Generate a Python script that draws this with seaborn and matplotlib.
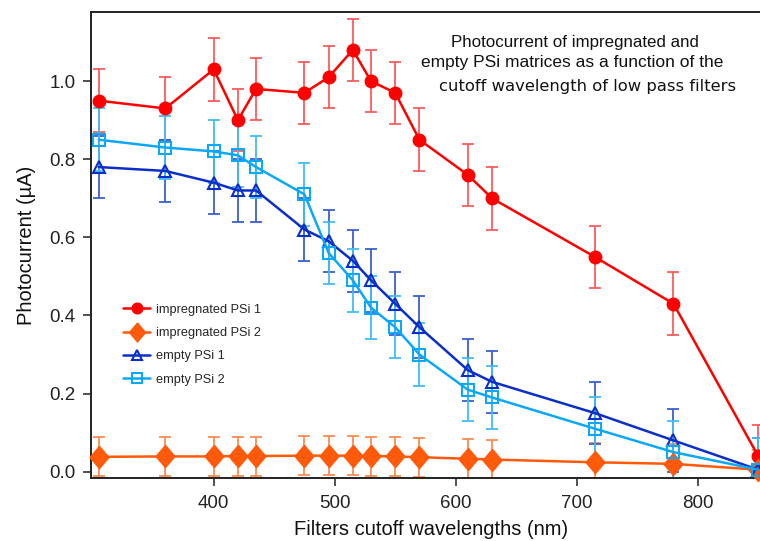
import matplotlib
matplotlib.use("Agg")
import matplotlib.pyplot as plt
import seaborn as sns
import pandas as pd
from matplotlib.lines import Line2D

wavelengths = [305, 360, 400, 420, 435, 475, 495, 515, 530, 550, 570, 610, 630, 715, 780, 850]
impregnated_1 = [0.95, 0.93, 1.03, 0.90, 0.98, 0.97, 1.01, 1.08, 1.00, 0.97, 0.85, 0.76, 0.70, 0.55, 0.43, 0.04]
impregnated_1_err = [0.08] * 16
impregnated_2 = [0.038, 0.039, 0.039, 0.040, 0.040, 0.041, 0.041, 0.041, 0.040, 0.039, 0.037, 0.033, 0.031, 0.024, 0.020, 0.005]
impregnated_2_err = [0.05] * 16
empty_1 = [0.78, 0.77, 0.74, 0.72, 0.72, 0.62, 0.59, 0.54, 0.49, 0.43, 0.37, 0.26, 0.23, 0.15, 0.08, 0.005]
empty_1_err = [0.08] * 16
empty_2 = [0.85, 0.83, 0.82, 0.81, 0.78, 0.71, 0.56, 0.49, 0.42, 0.37, 0.30, 0.21, 0.19, 0.11, 0.05, 0.005]
empty_2_err = [0.08] * 16

series_names = ["impregnated PSi 1", "impregnated PSi 2", "empty PSi 1", "empty PSi 2"]
x_ticks = [400, 500, 600, 700, 800]
y_ticks = [0.0, 0.2, 0.4, 0.6, 0.8, 1.0]
title_lines = ["Photocurrent of impregnated and",
               "empty PSi matrices as a function of the",
               "cutoff wavelength of low pass filters"]

sns.set_theme(style="ticks")
plt.rcParams['font.family'] = ['Liberation Sans', 'DejaVu Sans']

fig = plt.figure(figsize=(7.6, 5.41), dpi=100)
ax = fig.add_axes([91/760, (541-478.3)/541, 679.3/760, (478.3-12)/541])

tall_diamond = [(0, 1), (0.85, 0), (0, -1), (-0.85, 0), (0, 1)]

styles = [
    dict(values=impregnated_1, err=impregnated_1_err, color="#ff0000", ecolor="#ff5a5a",
         marker="o", ms=9, mfc="#ff0000", mew=1.0),
    dict(values=impregnated_2, err=impregnated_2_err, color="#ff5a0a", ecolor="#ff8a50",
         marker=tall_diamond, ms=16, mfc="#ff5a0a", mew=1.0),
    dict(values=empty_1, err=empty_1_err, color="#0b2fc6", ecolor="#3a5fd0",
         marker="^", ms=9, mfc="none", mew=1.5),
    dict(values=empty_2, err=empty_2_err, color="#0ca8f5", ecolor="#40bdf8",
         marker="s", ms=8, mfc="none", mew=1.5),
]

handles = []
for name, st in zip(series_names, styles):
    df = pd.DataFrame({"x": wavelengths, "y": st["values"]})
    ax.errorbar(wavelengths, st["values"], yerr=st["err"], fmt="none",
                ecolor=st["ecolor"], elinewidth=1.3, capsize=4, capthick=1.3,
                zorder=2, clip_on=True)
    sns.lineplot(data=df, x="x", y="y", ax=ax, color=st["color"], linewidth=1.8,
                 marker=st["marker"], markersize=st["ms"], markerfacecolor=st["mfc"],
                 markeredgecolor=st["color"], markeredgewidth=st["mew"],
                 zorder=3, clip_on=False, legend=False)
    handles.append(Line2D([], [], color=st["color"], linewidth=1.8, marker=st["marker"],
                          markersize=st["ms"] * 0.85, markerfacecolor=st["mfc"],
                          markeredgecolor=st["color"], markeredgewidth=st["mew"],
                          label=name))

ax.set_xlim(298.6, 860)
ax.set_ylim(-0.017, 1.177)
ax.set_xticks(x_ticks)
ax.set_yticks(y_ticks)
ax.set_yticklabels([f"{v:.1f}" for v in y_ticks])
ax.tick_params(axis="both", direction="out", length=6, width=1.1, labelsize=13.5,
               colors="#222222", pad=5)
ax.tick_params(axis="x", pad=6)
for side in ["left", "bottom", "top"]:
    ax.spines[side].set_linewidth(1.4)
    ax.spines[side].set_color("#222222")
ax.spines["right"].set_visible(False)

ax.set_xlabel("Filters cutoff wavelengths (nm)", fontsize=14.5, color="#111111", labelpad=6)
ax.set_ylabel("Photocurrent (µA)", fontsize=14.5, color="#111111", labelpad=10)

leg = ax.legend(handles=handles, loc="upper left", bbox_to_anchor=(0.04, 0.385),
                frameon=False, fontsize=9.2, handlelength=2.1, labelspacing=0.88,
                handletextpad=0.45, borderaxespad=0)

fig.text(575/760, 1 - 42/541, title_lines[0], ha="center", va="center", fontsize=12.2, color="#111111")
fig.text(572/760, 1 - 63/541, title_lines[1], ha="center", va="center", fontsize=12.5, color="#111111")
fig.text(588/760, 1 - 86/541, title_lines[2], ha="center", va="center", fontsize=11.8,
         color="#111111", family=["DejaVu Sans"])

fig.savefig("out.png", dpi=100)
